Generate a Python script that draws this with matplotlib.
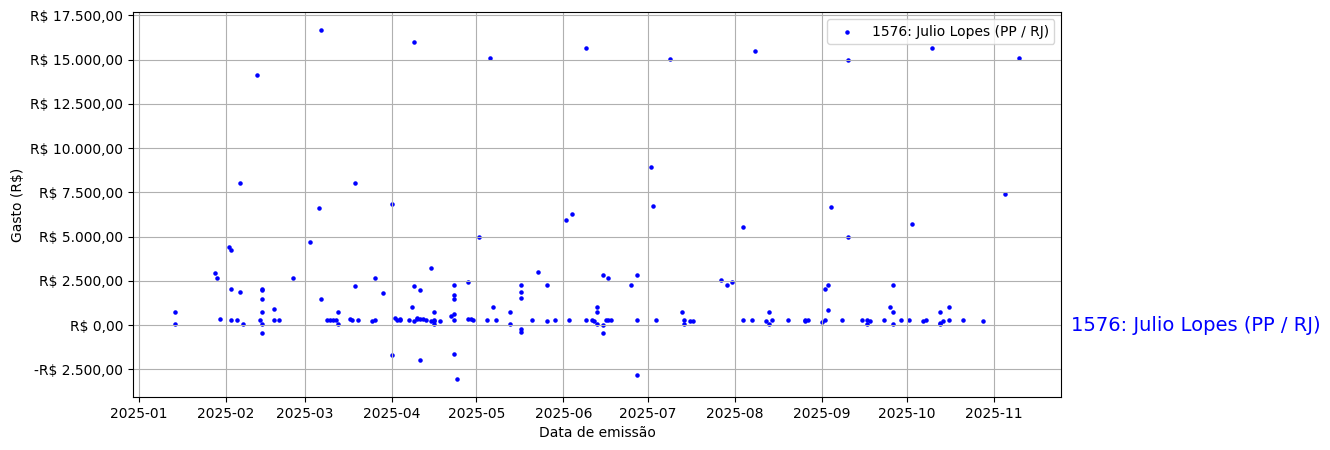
import pandas as pd
import matplotlib
matplotlib.use("Agg")
import matplotlib.pyplot as plt
import matplotlib.transforms as mtransforms
from matplotlib.ticker import FuncFormatter, MultipleLocator

deputado = "1576: Julio Lopes (PP / RJ)"

# data de emissão de cada despesa e valor (R$)
datas = [
    "2025-01-14", "2025-01-14", "2025-01-28", "2025-01-29", "2025-01-30",
    "2025-02-02", "2025-02-03", "2025-02-03", "2025-02-03", "2025-02-05",
    "2025-02-06", "2025-02-06", "2025-02-07", "2025-02-12", "2025-02-13",
    "2025-02-14", "2025-02-14", "2025-02-14", "2025-02-14", "2025-02-14",
    "2025-02-14", "2025-02-18", "2025-02-18", "2025-02-20", "2025-02-25",
    "2025-03-03", "2025-03-06", "2025-03-07", "2025-03-07", "2025-03-09",
    "2025-03-10", "2025-03-11", "2025-03-12", "2025-03-13", "2025-03-13",
    "2025-03-17", "2025-03-18", "2025-03-19", "2025-03-19", "2025-03-20",
    "2025-03-25", "2025-03-26", "2025-03-26", "2025-03-29", "2025-04-01",
    "2025-04-01", "2025-04-02", "2025-04-03", "2025-04-04", "2025-04-04",
    "2025-04-07", "2025-04-08", "2025-04-09", "2025-04-09", "2025-04-09",
    "2025-04-10", "2025-04-10", "2025-04-11", "2025-04-11", "2025-04-11",
    "2025-04-12", "2025-04-13", "2025-04-15", "2025-04-15", "2025-04-16",
    "2025-04-16", "2025-04-16", "2025-04-16", "2025-04-18", "2025-04-22",
    "2025-04-23", "2025-04-23", "2025-04-23", "2025-04-23", "2025-04-23",
    "2025-04-23", "2025-04-24", "2025-04-28", "2025-04-28", "2025-04-29",
    "2025-04-30", "2025-05-02", "2025-05-05", "2025-05-06", "2025-05-07",
    "2025-05-08", "2025-05-13", "2025-05-13", "2025-05-17", "2025-05-17",
    "2025-05-17", "2025-05-17", "2025-05-17", "2025-05-21", "2025-05-23",
    "2025-05-26", "2025-05-26", "2025-05-29", "2025-06-02", "2025-06-03",
    "2025-06-04", "2025-06-09", "2025-06-09", "2025-06-11", "2025-06-12",
    "2025-06-13", "2025-06-13", "2025-06-13", "2025-06-15", "2025-06-15",
    "2025-06-15", "2025-06-16", "2025-06-17", "2025-06-17", "2025-06-18",
    "2025-06-25", "2025-06-27", "2025-06-27", "2025-06-27", "2025-07-02",
    "2025-07-03", "2025-07-04", "2025-07-09", "2025-07-13", "2025-07-14",
    "2025-07-14", "2025-07-16", "2025-07-17", "2025-07-27", "2025-07-29",
    "2025-07-31", "2025-08-04", "2025-08-04", "2025-08-07", "2025-08-08",
    "2025-08-12", "2025-08-13", "2025-08-13", "2025-08-14", "2025-08-20",
    "2025-08-26", "2025-08-26", "2025-08-27", "2025-09-01", "2025-09-02",
    "2025-09-02", "2025-09-03", "2025-09-03", "2025-09-04", "2025-09-08",
    "2025-09-10", "2025-09-10", "2025-09-15", "2025-09-17", "2025-09-17",
    "2025-09-18", "2025-09-23", "2025-09-25", "2025-09-26", "2025-09-26",
    "2025-09-26", "2025-09-29", "2025-10-02", "2025-10-03", "2025-10-07",
    "2025-10-08", "2025-10-10", "2025-10-13", "2025-10-13", "2025-10-13",
    "2025-10-14", "2025-10-16", "2025-10-16", "2025-10-21", "2025-10-28",
    "2025-11-05", "2025-11-10",
]
valores = [
    715, 40, 2920, 2635, 320,
    4440, 4270, 2015, 265, 265,
    8000, 1900, 40, 14150, 265,
    2030, 1975, 1450, 715, 40,
    -470, 885, 265, 265, 2635,
    4670, 6590, 1450, 16690, 265,
    265, 265, 265, 715, 40,
    320, 265, 8000, 2185, 265,
    210, 2635, 265, 1790, 6815,
    -1710, 380, 265, 330, 310,
    265, 1000, 2185, 210, 16015,
    320, 380, 320, 1960, -1990,
    320, 265, 210, 3200, 210,
    265, 715, 40, 210, 490,
    2240, 1675, 1450, 605, 265,
    -1655, -3065, 2410, 320, 320,
    265, 5000, 265, 15110, 1000,
    265, 715, 40, 2240, 1900,
    1505, -245, -410, 265, 2975,
    2240, 210, 265, 5965, 265,
    6305, 265, 15675, 265, 210,
    1000, 715, 40, 2805, -15,
    -470, 265, 2635, 265, 265,
    2240, 2805, 265, -2840, 8960,
    6755, 265, 15055, 715, 265,
    40, 210, 210, 2525, 2240,
    2410, 5515, 265, 265, 15505,
    210, 715, 40, 265, 265,
    210, 265, 265, 150, 2015,
    265, 2240, 830, 6700, 265,
    15000, 5000, 265, 265, 40,
    210, 265, 1000, 2240, 715,
    40, 265, 265, 5685, 210,
    265, 15675, 715, 40, 95,
    210, 1000, 265, 265, 210,
    7380, 15110,
]

df = pd.DataFrame({"data": pd.to_datetime(datas), "valor": valores})


def reais(v, pos=None):
    s = f"{abs(v):,.2f}".replace(",", "X").replace(".", ",").replace("X", ".")
    return ("-R$ " if v < 0 else "R$ ") + s


fig, ax = plt.subplots(figsize=(13.3, 4.5), dpi=100)
fig.subplots_adjust(left=0.1, right=0.798, top=0.973, bottom=0.118)

ax.scatter(df["data"], df["valor"], s=5, color="blue", label=deputado)

ax.yaxis.set_major_locator(MultipleLocator(2500))
ax.yaxis.set_major_formatter(FuncFormatter(reais))
ax.set_xlabel("Data de emissão")
ax.set_ylabel("Gasto (R$)")
ax.grid(True)
ax.legend(loc="upper right")

trans = mtransforms.blended_transform_factory(ax.transAxes, ax.transData)
ax.text(1.01, 0, deputado, transform=trans, color="blue", fontsize=14,
        va="center", ha="left")

fig.savefig("out.png", dpi=100)
